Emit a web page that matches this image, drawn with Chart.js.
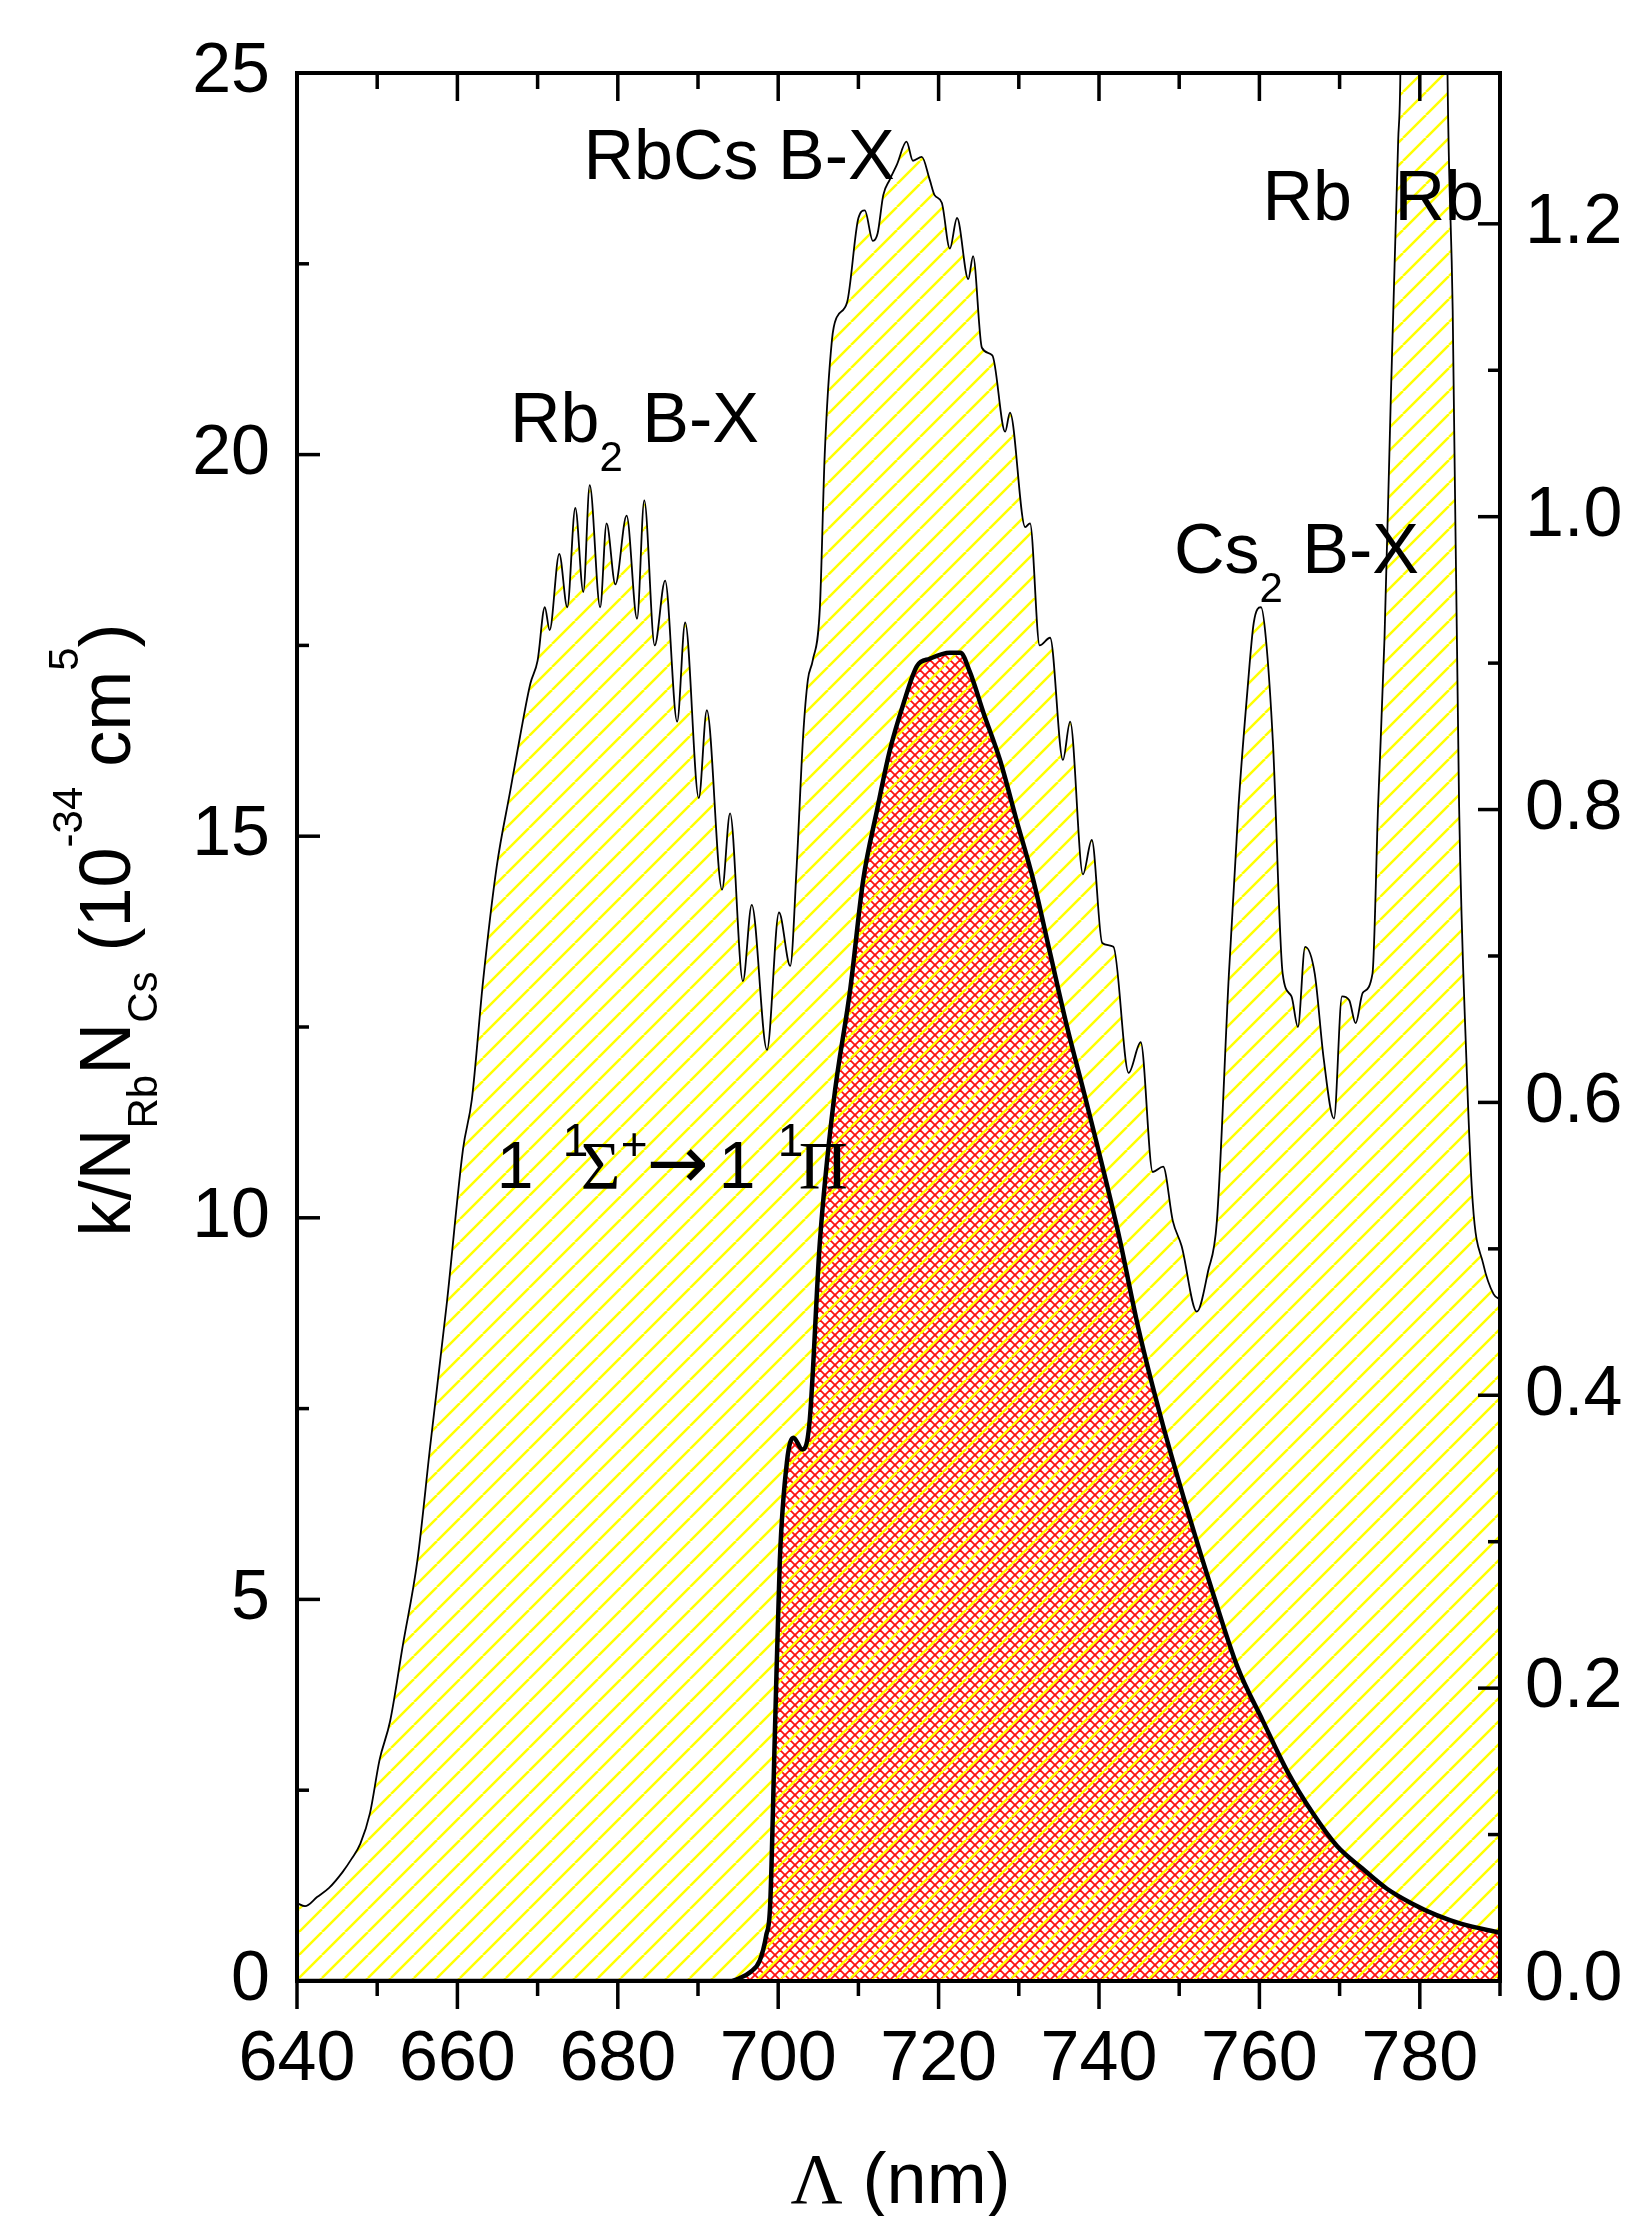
<!DOCTYPE html>
<html><head><meta charset="utf-8">
<script src="https://cdn.jsdelivr.net/npm/chart.js@4.4.1/dist/chart.umd.min.js"></script>
<style>html,body{margin:0;padding:0;background:#fff;}canvas{display:block;}</style>
</head><body>
<canvas id="c" width="1626" height="2216"></canvas>
<script>
// ---- data ----
const expWavelength = [640.0,641.0,642.5,644.0,645.7,646.8,647.9,649.1,650.3,651.6,653.2,655.0,656.6,658.7,660.7,661.8,663.2,664.9,666.6,667.8,669.1,670.0,670.9,671.5,672.7,673.7,674.7,675.7,676.5,677.8,678.6,679.7,681.1,682.4,683.3,684.6,685.9,687.4,688.4,690.1,691.1,693.0,694.0,695.6,696.7,698.6,700.1,701.5,702.3,703.1,703.7,704.3,705.2,705.8,706.7,707.3,708.6,710.0,710.8,711.8,712.4,713.1,713.9,714.8,716.0,716.8,717.9,718.9,719.5,720.4,721.4,722.3,723.7,724.3,725.4,726.7,728.3,728.9,730.8,731.4,732.6,733.9,735.5,736.4,738.0,739.1,740.4,741.8,743.7,745.2,746.7,748.0,749.2,750.3,752.2,753.6,754.7,756.2,757.4,758.5,759.3,760.2,760.8,761.7,762.9,764.0,764.8,765.7,766.9,768.0,769.3,770.3,771.2,772.0,772.9,774.1,774.8,775.6,776.4,777.3,777.6,778.5,780.5,782.5,783.4,784.1,784.9,785.8,786.6,787.9,789.2,790.0];
const expSignal = [1.02,0.98,1.10,1.22,1.43,1.60,1.80,2.20,2.90,3.40,4.40,5.50,7.00,8.90,10.9,11.55,13.1,14.6,15.6,16.3,17.0,17.3,18.0,17.7,18.7,18.0,19.3,18.2,19.6,18.0,19.1,18.3,19.2,17.85,19.4,17.5,18.35,16.5,17.8,15.5,16.65,14.3,15.3,13.1,14.1,12.2,14.0,13.3,14.6,16.3,17.05,17.3,18.0,20.0,21.5,21.8,22.0,23.1,23.2,22.8,22.9,23.4,23.6,23.8,24.1,23.85,23.9,23.6,23.4,23.3,22.7,23.1,22.3,22.6,21.4,21.3,20.3,20.55,19.05,19.1,17.5,17.6,16.0,16.5,14.5,14.95,13.6,13.55,11.9,12.3,10.6,10.67,9.96,9.63,8.77,9.3,9.96,13.2,15.4,16.9,17.8,18.0,17.6,16.2,13.2,12.9,12.5,13.55,13.2,12.1,11.3,12.9,12.85,12.55,12.95,13.2,15.4,17.6,20.8,24.1,25.2,40,60,40,25.5,21.9,15.4,12.1,10.2,9.4,9.0,8.93];
const theoryWavelength = [640.0,694.0,695.2,696.5,697.7,698.5,699.0,699.6,700.2,701.1,701.9,703.0,703.9,705.2,706.9,709.0,710.6,712.3,713.9,715.6,717.3,718.9,721.4,722.7,723.9,725.6,727.7,729.7,731.8,733.9,736.0,738.3,742.4,744.9,748.0,751.1,754.2,757.3,760.4,763.5,766.6,769.7,772.8,775.9,779.0,782.1,785.2,790.0];
const theorySignal = [0,0,0.002,0.006,0.014,0.031,0.052,0.172,0.287,0.355,0.371,0.363,0.381,0.505,0.600,0.678,0.752,0.799,0.840,0.872,0.898,0.903,0.907,0.907,0.894,0.866,0.833,0.793,0.752,0.702,0.652,0.603,0.511,0.446,0.379,0.320,0.265,0.214,0.178,0.143,0.115,0.092,0.077,0.063,0.053,0.045,0.039,0.033];
const xTicks = [640,660,680,700,720,740,760,780];
const xMinorTicks = [650,670,690,710,730,750,770,790];
const yTicks = [0,5,10,15,20,25];
const yMinorTicks = [2.5,7.5,12.5,17.5,22.5];
const y2Ticks = [0,0.2,0.4,0.6,0.8,1.0,1.2];
const y2MinorTicks = [0.1,0.3,0.5,0.7,0.9,1.1];

// ---- styles ----
const SANS = '"Liberation Sans", Arial, sans-serif';
const SERIF = '"Liberation Serif", "Times New Roman", serif';
const cv = document.getElementById('c');
const mainCtx = cv.getContext('2d');

function makeHatch(size, color, lw, both) {
  const c = document.createElement('canvas');
  c.width = size; c.height = size;
  const g = c.getContext('2d');
  g.strokeStyle = color; g.lineWidth = lw;
  const seg = (a, b, cx, d) => { g.beginPath(); g.moveTo(a, b); g.lineTo(cx, d); g.stroke(); };
  for (const o of [-size, 0, size]) seg(o, size, o + size, 0);
  if (both) for (const o of [-size, 0, size]) seg(o, 0, o + size, size);
  return mainCtx.createPattern(c, 'repeat');
}
const yellowHatch = makeHatch(23, '#ffff00', 2.5, false);
const redHatch = makeHatch(10, '#ff1010', 1.8, true);

// text annotations: anchor in data coordinates; parts = [text, dx(null=follow), dy, size, family]
const annotations = [
  {x: 675.72, y: 23.61, parts: [['RbCs B-X', null, 0, 70, SANS]]},
  {x: 666.56, y: 20.16, parts: [['Rb', null, 0, 70, SANS], ['2', null, 29, 42, SANS], [' B-X', null, 0, 70, SANS]]},
  {x: 749.35, y: 18.45, parts: [['Cs', null, 0, 70, SANS], ['2', null, 29, 42, SANS], [' B-X', null, 0, 70, SANS]]},
  {x: 760.39, y: 23.07, parts: [['Rb', null, 0, 70, SANS]]},
  {x: 776.85, y: 23.07, parts: [['Rb', null, 0, 70, SANS]]},
  {x: 664.9, y: 10.39, parts: [
    ['1', 0, 0, 66, SANS], ['1', 66, -32, 46, SANS], ['\u03A3', 84, 0, 68, SERIF],
    ['+', 124, -28, 46, SANS], ['\u2192', 150, 0, 74, '"DejaVu Sans", sans-serif'],
    ['1', 222, 0, 66, SANS], ['1', 281, -32, 46, SANS], ['\u03A0', 302, 0, 68, SERIF]]}
];

function drawParts(ctx, x0, y0, parts) {
  let cx = x0;
  for (const [t, dx, dy, size, fam] of parts) {
    ctx.font = size + 'px ' + fam;
    const px = dx === null ? cx : x0 + dx;
    ctx.fillText(t, px, y0 + dy);
    cx = px + ctx.measureText(t).width;
  }
}
function partsWidth(ctx, parts) {
  let w = 0;
  for (const [t, dx, dy, size, fam] of parts) { ctx.font = size + 'px ' + fam; w += ctx.measureText(t).width; }
  return w;
}

const whiteBg = {
  id: 'whiteBg',
  beforeDraw(chart) { const c = chart.ctx; c.save(); c.fillStyle = '#fff'; c.fillRect(0, 0, chart.width, chart.height); c.restore(); }
};

const frameTicks = {
  id: 'frameTicks',
  afterDatasetsDraw(chart) {
    const {ctx, chartArea: a, scales: {x, y, y2}} = chart;
    ctx.save();
    ctx.strokeStyle = '#000'; ctx.lineCap = 'butt'; ctx.lineWidth = 3.5;
    const ln = (x1, y1, x2, y3) => { ctx.beginPath(); ctx.moveTo(x1, y1); ctx.lineTo(x2, y3); ctx.stroke(); };
    yTicks.forEach(v => { const p = y.getPixelForValue(v); ln(a.left, p, a.left + 23, p); });
    yMinorTicks.forEach(v => { const p = y.getPixelForValue(v); ln(a.left, p, a.left + 12, p); });
    y2Ticks.forEach(v => { const p = y2.getPixelForValue(v); ln(a.right, p, a.right - 22, p); });
    y2MinorTicks.forEach(v => { const p = y2.getPixelForValue(v); ln(a.right, p, a.right - 12, p); });
    xTicks.forEach(v => { const p = x.getPixelForValue(v); ln(p, a.bottom, p, a.bottom + 28); ln(p, a.top, p, a.top + 28); });
    xMinorTicks.forEach(v => { const p = x.getPixelForValue(v); ln(p, a.bottom, p, a.bottom + 15); ln(p, a.top, p, a.top + 16); });
    ctx.lineWidth = 4;
    ctx.strokeRect(a.left, a.top, a.right - a.left, a.bottom - a.top);
    ctx.restore();
  },
  afterDraw(chart) {
    const {ctx, chartArea: a, scales: {x, y}} = chart;
    ctx.save();
    ctx.fillStyle = '#000'; ctx.textBaseline = 'alphabetic'; ctx.textAlign = 'left';
    for (const an of annotations) drawParts(ctx, x.getPixelForValue(an.x), y.getPixelForValue(an.y), an.parts);
    // x title
    const xt = [['\u039B', null, 0, 72, SERIF], [' (nm)', null, 0, 72, SANS]];
    const xw = partsWidth(ctx, xt);
    drawParts(ctx, (a.left + a.right) / 2 + 2 - xw / 2, a.bottom + 222, xt);
    // y title (rotated)
    const yt = [['k/N', null, 0, 72, SANS], ['Rb', null, 27, 42, SANS], ['N', null, 0, 72, SANS], ['Cs', null, 27, 42, SANS],
      [' (10', null, 0, 72, SANS], ['-34', null, -48, 42, SANS], [' cm', null, 0, 72, SANS], ['5', null, -52, 42, SANS], [')', null, 0, 72, SANS]];
    const yw = partsWidth(ctx, yt);
    ctx.translate(a.left - 167, a.top + 857);
    ctx.rotate(-Math.PI / 2);
    drawParts(ctx, -yw / 2, 0, yt);
    ctx.restore();
  }
};

const expPoints = expWavelength.map((w, i) => ({x: w, y: expSignal[i]}));
const theoryPoints = theoryWavelength.map((w, i) => ({x: w, y: theorySignal[i]}));

const tickFont = {family: SANS, size: 70};
new Chart(cv, {
  type: 'line',
  data: {
    datasets: [
      {label: 'experiment', data: expPoints, yAxisID: 'y', order: 1, borderColor: '#000', borderWidth: 1.8,
        backgroundColor: yellowHatch, fill: 'origin', pointRadius: 0, cubicInterpolationMode: 'monotone'},
      {label: 'theory', data: theoryPoints, yAxisID: 'y2', order: 2, borderColor: '#000', borderWidth: 4.5,
        backgroundColor: redHatch, fill: 'origin', pointRadius: 0, cubicInterpolationMode: 'monotone'}
    ]
  },
  options: {
    responsive: false, animation: false, devicePixelRatio: 1,
    layout: {padding: {top: 73, left: 0, right: 0, bottom: 0}},
    plugins: {legend: {display: false}, tooltip: {enabled: false}, filler: {drawTime: 'beforeDatasetsDraw'}},
    scales: {
      x: {type: 'linear', min: 640, max: 790, position: 'bottom',
        grid: {display: false, drawTicks: false}, border: {display: false},
        afterBuildTicks: s => { s.ticks = xTicks.map(v => ({value: v})); },
        afterFit: s => { s.height = 235; },
        ticks: {font: tickFont, color: '#000', padding: 38, autoSkip: false, maxRotation: 0}},
      y: {type: 'linear', min: 0, max: 25, position: 'left',
        grid: {display: false, drawTicks: false}, border: {display: false},
        afterBuildTicks: s => { s.ticks = yTicks.map(v => ({value: v})); },
        afterFit: s => { s.width = 297; },
        ticks: {font: tickFont, color: '#000', padding: 27}},
      y2: {type: 'linear', min: 0, max: 1.303, position: 'right',
        grid: {display: false, drawTicks: false}, border: {display: false},
        afterBuildTicks: s => { s.ticks = y2Ticks.map(v => ({value: v})); },
        afterFit: s => { s.width = 126; },
        ticks: {font: tickFont, color: '#000', padding: 25, callback: v => Number(v).toFixed(1)}}
    }
  },
  plugins: [whiteBg, frameTicks]
});
</script>
</body></html>
